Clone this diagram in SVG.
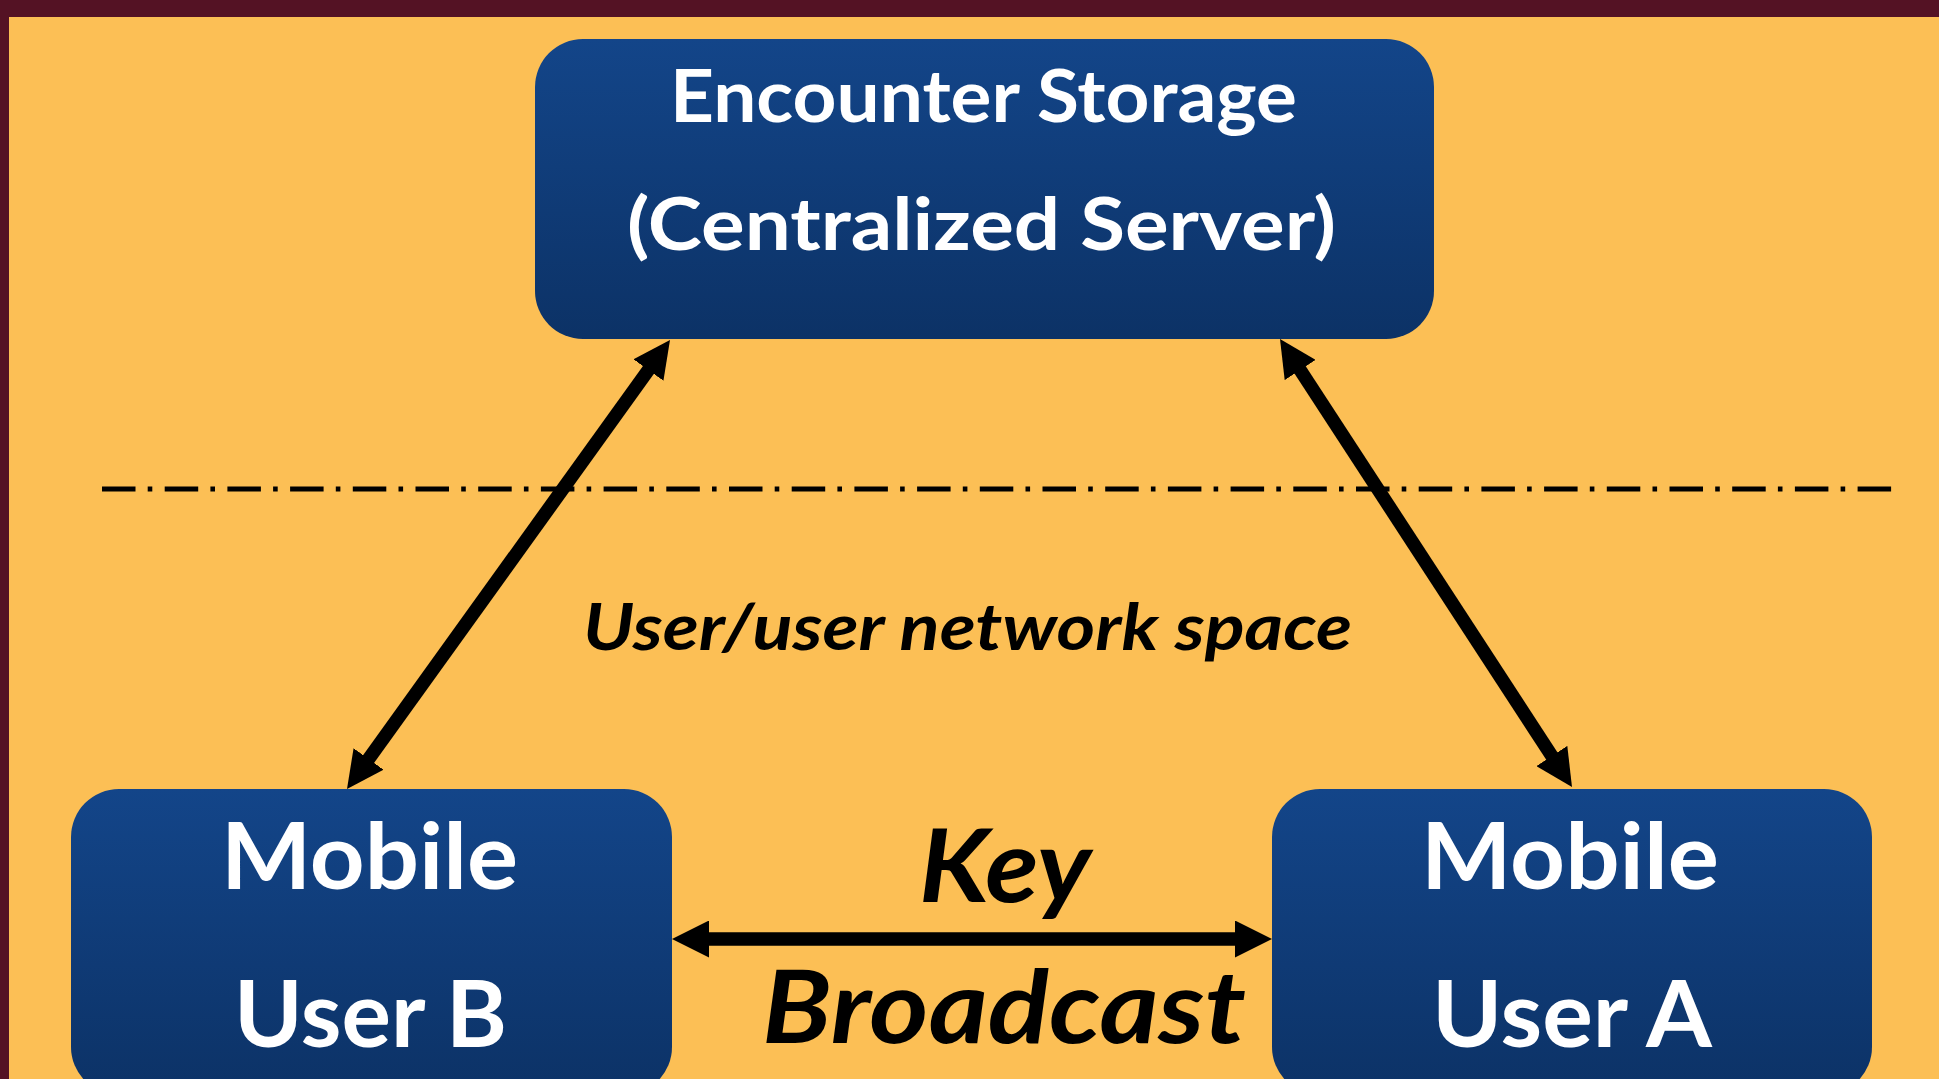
<svg xmlns="http://www.w3.org/2000/svg" width="1939" height="1079" viewBox="0 0 1939 1079">
  <defs>
    <linearGradient id="boxFill" x1="0" y1="0" x2="0" y2="1">
      <stop offset="0" stop-color="#134589"/>
      <stop offset="1" stop-color="#0C3266"/>
    </linearGradient>
    <marker id="head" viewBox="0 -18.5 37 37" markerWidth="37" markerHeight="37" refX="2" refY="0" markerUnits="userSpaceOnUse" orient="auto-start-reverse">
      <path d="M0,-18.5 L37,0 L0,18.5 Z" fill="#000"/>
    </marker>
    <style>
      .box { fill: url(#boxFill); }
      .node-label { font-family: Lato, "Open Sans", "Liberation Sans", sans-serif; font-weight: 700; fill: #fff; }
      .note { font-family: Lato, "Open Sans", "Liberation Sans", sans-serif; font-weight: 700; font-style: italic; fill: #000; }
      .link { stroke: #000; stroke-width: 13.5; fill: none; marker-start: url(#head); marker-end: url(#head); }
      .divider { stroke: #000; stroke-width: 5; stroke-dasharray: 33.5 12.2 4.6 12.4; fill: none; }
    </style>
  </defs>

  <!-- page background and frame -->
  <rect x="0" y="0" width="1939" height="1079" fill="#FCBF55"/>
  <rect x="0" y="0" width="1939" height="17" fill="#541224"/>
  <rect x="0" y="17" width="9" height="1062" fill="#541224"/>

  <!-- boundary between server side and user network space -->
  <line class="divider" x1="102" y1="489" x2="1893" y2="489"/>

  <text class="note" x="583" y="650" font-size="65" textLength="769" lengthAdjust="spacingAndGlyphs">User/user network space</text>

  <!-- nodes -->
  <g id="server">
    <rect class="box" x="535" y="39" width="899" height="300" rx="48" ry="48"/>
    <text class="node-label" x="670" y="122" font-size="72" textLength="627" lengthAdjust="spacingAndGlyphs">Encounter Storage</text>
    <text class="node-label" x="627" y="250" font-size="73" textLength="709" lengthAdjust="spacingAndGlyphs">(Centralized Server)</text>
  </g>

  <g id="user-b">
    <rect class="box" x="71" y="789" width="601" height="306" rx="48" ry="48"/>
    <text class="node-label" x="221" y="889" font-size="92" textLength="297" lengthAdjust="spacingAndGlyphs">Mobile</text>
    <text class="node-label" x="234" y="1047" font-size="92" textLength="273" lengthAdjust="spacingAndGlyphs">User B</text>
  </g>

  <g id="user-a">
    <rect class="box" x="1272" y="789" width="600" height="306" rx="48" ry="48"/>
    <text class="node-label" x="1421" y="889" font-size="92" textLength="298" lengthAdjust="spacingAndGlyphs">Mobile</text>
    <text class="node-label" x="1432" y="1047" font-size="92" textLength="280" lengthAdjust="spacingAndGlyphs">User A</text>
  </g>

  <!-- connectors -->
  <g id="connectors">
    <line class="link" x1="649.56" y1="368.41" x2="367.44" y2="760.59"/>
    <line class="link" x1="1299.11" y1="368.32" x2="1552.89" y2="757.68"/>
    <line class="link" x1="707" y1="939" x2="1237" y2="939"/>
    <text class="note" x="919" y="902" font-size="102" textLength="172" lengthAdjust="spacingAndGlyphs">Key</text>
    <text class="note" x="762" y="1043" font-size="102" textLength="484" lengthAdjust="spacingAndGlyphs">Broadcast</text>
  </g>
</svg>
